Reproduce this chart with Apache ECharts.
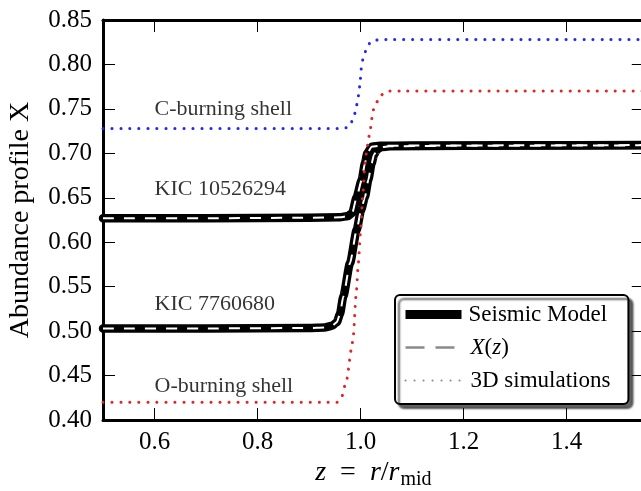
<!DOCTYPE html>
<html><head><meta charset="utf-8">
<script src="https://cdn.jsdelivr.net/npm/echarts@6/dist/echarts.min.js"></script>
<style>html,body{margin:0;padding:0;background:#fff}#c{width:641px;height:491px}</style>
</head><body><div id="c"></div>
<script>
// ---- data ----
const xTicks = [0.6, 0.8, 1.0, 1.2, 1.4];
const yTicks = [0.40, 0.45, 0.50, 0.55, 0.60, 0.65, 0.70, 0.75, 0.80, 0.85];
// Seismic model (and X(z) fit) for KIC 10526294
const kic10526294 = [[0.50,0.627],[0.70,0.627],[0.90,0.6275],[0.96,0.628],[0.976,0.6295],[0.984,0.633],[0.9926,0.651],[1.0023,0.670],[1.0087,0.689],[1.0132,0.700],[1.0217,0.7075],[1.038,0.7085],[1.10,0.7087],[1.30,0.709],[1.55,0.7093]];
// Seismic model (and X(z) fit) for KIC 7760680
const kic7760680 = [[0.50,0.503],[0.70,0.503],[0.90,0.5035],[0.93,0.504],[0.945,0.506],[0.954,0.510],[0.960,0.519],[0.9666,0.539],[0.9796,0.5763],[0.9926,0.6138],[1.001,0.636],[1.0087,0.651],[1.0151,0.670],[1.0217,0.689],[1.026,0.698],[1.0315,0.7038],[1.040,0.707],[1.057,0.708],[1.20,0.7085],[1.55,0.709]];
// 3D simulations
const cBurning = [[0.50,0.728],[0.96,0.728],[0.976,0.729],[0.986,0.738],[0.991,0.749],[0.994,0.758],[0.997,0.7675],[0.999,0.779],[1.002,0.7975],[1.0055,0.808],[1.012,0.818],[1.020,0.826],[1.038,0.828],[1.55,0.828]];
const oBurning = [[0.50,0.420],[0.955,0.420],[0.963,0.425],[0.973,0.445],[0.983,0.482],[0.986,0.494],[0.9913,0.539],[0.9958,0.576],[1.0003,0.614],[1.0043,0.651],[1.0087,0.689],[1.013,0.7075],[1.017,0.72],[1.025,0.749],[1.031,0.757],[1.038,0.765],[1.053,0.770],[1.55,0.770]];
const annotNames = ['C-burning shell', 'KIC 10526294', 'KIC 7760680', 'O-burning shell'];
const annotX = [0.6, 0.6, 0.6, 0.6];
const annotY = [0.75, 0.66, 0.53, 0.438];
const legendNames = ['Seismic Model', 'X(z)', '3D simulations'];

// ---- chart ----
const FONT = 'Liberation Serif';
const chart = echarts.init(document.getElementById('c'), null, {renderer: 'canvas'});
const tickStyle = {show: true, inside: true, length: 12, lineStyle: {color: '#000', width: 1}};
const axisLine = {show: true, onZero: false, lineStyle: {color: '#000', width: 3}};
const tok = (size, italic) => ({fontFamily: FONT, fontSize: size, fontStyle: italic ? 'italic' : 'normal', fontWeight: 'normal', color: '#000'});

function lineSeries(name, data, style, z) {
  return {type: 'line', name, data, xAxisIndex: 0, yAxisIndex: 0, symbol: 'none', showSymbol: false,
    smooth: 0.2, smoothMonotone: 'x', z, silent: true, animation: false, lineStyle: style};
}
const black = {color: '#000', width: 8.5, join: 'round', cap: 'round'};
const white = {color: '#fff', width: 2, type: [11, 10]};
const dotB = {color: '#2525f0', width: 3, type: [0.1, 8.9], cap: 'round'};
const dotR = {color: '#e02525', width: 3, type: [0.1, 8.9], cap: 'round'};
const noSym = {opacity: 0, color: 'rgba(0,0,0,0)', borderWidth: 0};

const option = {
  animation: false,
  backgroundColor: '#fff',
  textStyle: {fontFamily: FONT, color: '#000'},
  grid: {left: 103, top: 20, right: -2.75, bottom: 71, containLabel: false, outerBoundsMode: 'none'},
  xAxis: [{
    type: 'value', position: 'bottom', min: 0.5, max: 1.55,
    axisLine, splitLine: {show: false},
    axisTick: Object.assign({customValues: xTicks}, tickStyle),
    axisLabel: Object.assign({customValues: xTicks, margin: 10, formatter: v => v.toFixed(1)}, tok(25, false), {fontFamily: 'serif'}),
    name: '{i|z} {n| = } {i|r}{n|/}{i|r}{s|mid}', nameLocation: 'middle', nameGap: 36, nameMoveOverlap: false,
    nameTextStyle: {fontFamily: FONT, fontSize: 28, color: '#000',
      rich: {i: tok(28, true), n: tok(28, false), s: Object.assign(tok(20, false), {padding: [14, 0, 0, 1]})}}
  }, {
    type: 'value', position: 'top', min: 0.5, max: 1.55,
    axisLine, splitLine: {show: false},
    axisTick: Object.assign({customValues: xTicks}, tickStyle),
    axisLabel: {show: false}
  }],
  yAxis: [{
    type: 'value', position: 'left', min: 0.40, max: 0.85,
    axisLine, splitLine: {show: false},
    axisTick: Object.assign({customValues: yTicks}, tickStyle),
    axisLabel: Object.assign({customValues: yTicks, margin: 11, formatter: v => '{t|' + v.toFixed(2) + '}', rich: {t: tok(25, false)}}, tok(25, false)),
    name: 'Abundance profile X', nameLocation: 'middle', nameRotate: 90, nameGap: 68, nameMoveOverlap: false,
    nameTextStyle: tok(28, false)
  }, {
    type: 'value', position: 'right', min: 0.40, max: 0.85,
    axisLine, splitLine: {show: false},
    axisTick: Object.assign({customValues: yTicks}, tickStyle),
    axisLabel: {show: false}
  }],
  legend: {
    show: true, orient: 'vertical', left: 395, top: 295,
    itemWidth: 56, itemHeight: 12, itemGap: 10,
    padding: [8, 18, 12, 6],
    backgroundColor: '#fff', borderColor: '#000', borderWidth: 2, borderRadius: 5,
    shadowColor: 'rgba(0,0,0,0.6)', shadowBlur: 2, shadowOffsetX: 4, shadowOffsetY: 4,
    selectedMode: false,
    itemStyle: noSym,
    textStyle: Object.assign(tok(23, false), {fontFamily: 'Times New Roman', padding: [0, 0, 0, 2],
      rich: {i0: Object.assign(tok(23, true), {padding: [0, 0, 0, 2]}), i: tok(23, true), n: tok(23, false), t: Object.assign(tok(23, false), {padding: [0, 0, 0, 2]})}}),
    formatter: name => name === 'X(z)' ? '{i0|X}{n|(}{i|z}{n|)}' : (name === legendNames[2] ? '{t|' + name + '}' : name),
    data: [
      {name: legendNames[0], itemStyle: noSym, lineStyle: {color: '#000', width: 9, type: 'solid', cap: 'butt'}},
      {name: legendNames[1], itemStyle: noSym, lineStyle: {color: '#8a8a8a', width: 2.5, type: [19, 11], cap: 'butt'}},
      {name: legendNames[2], itemStyle: noSym, lineStyle: {color: '#8a8a8a', width: 2, type: [0.1, 8.9], cap: 'round'}}
    ]
  },
  series: [
    lineSeries(legendNames[0], kic10526294, black, 2),
    lineSeries(legendNames[0], kic7760680, black, 2),
    lineSeries(legendNames[1], kic10526294, white, 3),
    lineSeries(legendNames[1], kic7760680, white, 3),
    lineSeries(legendNames[2], cBurning, dotB, 4),
    lineSeries(legendNames[2], oBurning, dotR, 4),
    {
      type: 'scatter', name: 'annotations', symbolSize: 0, silent: true, z: 5,
      data: annotNames.map((n, i) => ({name: n, value: [annotX[i], annotY[i]]})),
      label: Object.assign({show: true, position: 'right', distance: 0, formatter: '{b}'}, tok(22, false))
    }
  ]
};
chart.setOption(option);
</script></body></html>
